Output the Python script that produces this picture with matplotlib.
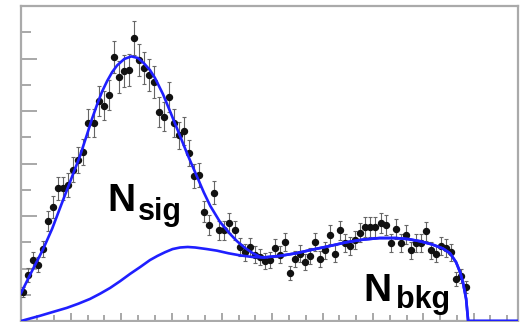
import numpy as np
import matplotlib.pyplot as plt
from matplotlib.ticker import MultipleLocator

# data points (bin centres, counts, errors)
x_data = np.linspace(0.05, 8.85, 89)
y_data = [0.55, 0.88, 1.16, 1.07, 1.37, 1.90, 2.17, 2.53, 2.53, 2.59,
          2.88, 3.07, 3.22, 3.77, 3.77, 4.19, 4.10, 4.30, 5.03, 4.65,
          4.76, 4.78, 5.39, 4.97, 4.82, 4.69, 4.55, 3.98, 3.89, 4.27,
          3.77, 3.54, 3.62, 3.20, 2.76, 2.78, 2.08, 1.83, 2.44, 1.73,
          1.73, 1.87, 1.73, 1.41, 1.31, 1.41, 1.26, 1.22, 1.14, 1.16,
          1.39, 1.26, 1.50, 0.91, 1.18, 1.28, 1.12, 1.24, 1.50, 1.18,
          1.35, 1.64, 1.28, 1.73, 1.49, 1.43, 1.54, 1.68, 1.79, 1.79,
          1.79, 1.87, 1.83, 1.49, 1.75, 1.49, 1.64, 1.35, 1.49, 1.49,
          1.71, 1.35, 1.28, 1.43, 1.39, 1.31, 0.80, 0.86, 0.65]
y_err = [0.10, 0.13, 0.15, 0.14, 0.16, 0.19, 0.21, 0.22, 0.22, 0.23,
         0.24, 0.25, 0.25, 0.27, 0.27, 0.29, 0.28, 0.29, 0.31, 0.30,
         0.31, 0.31, 0.33, 0.31, 0.31, 0.30, 0.30, 0.28, 0.28, 0.29,
         0.27, 0.26, 0.27, 0.25, 0.23, 0.23, 0.20, 0.19, 0.22, 0.18,
         0.18, 0.19, 0.18, 0.17, 0.16, 0.17, 0.16, 0.15, 0.15, 0.15,
         0.17, 0.16, 0.17, 0.13, 0.15, 0.16, 0.15, 0.16, 0.17, 0.15,
         0.16, 0.18, 0.16, 0.18, 0.17, 0.17, 0.17, 0.18, 0.19, 0.19,
         0.19, 0.19, 0.19, 0.17, 0.19, 0.17, 0.18, 0.16, 0.17, 0.17,
         0.18, 0.16, 0.16, 0.17, 0.17, 0.16, 0.13, 0.13, 0.11]

# total fit (signal region)
tot_x = [0.01, 0.19, 0.45, 0.63, 0.78, 0.98, 1.18, 1.32, 1.42, 1.52,
         1.62, 1.72, 1.82, 1.92, 2.06, 2.20, 2.33, 2.45, 2.57, 2.67,
         2.83, 3.01, 3.17, 3.33, 3.51, 3.64, 3.77, 3.96, 4.16, 4.30,
         4.46, 4.60, 4.76]
tot_y = [0.53, 0.88, 1.37, 1.76, 2.14, 2.64, 3.14, 3.55, 3.85, 4.12,
         4.37, 4.57, 4.74, 4.87, 4.99, 5.04, 5.01, 4.91, 4.78, 4.63,
         4.32, 3.90, 3.52, 3.14, 2.74, 2.45, 2.19, 1.89, 1.66, 1.52,
         1.39, 1.30, 1.22]

# background fit
bkg_x = [0.01, 0.20, 0.39, 0.60, 0.92, 1.15, 1.38, 1.58, 1.78, 1.98,
         2.18, 2.38, 2.57, 2.72, 2.87, 3.02, 3.17, 3.32, 3.47, 3.70,
         3.90, 4.13, 4.36, 4.60, 4.82, 5.15, 5.47, 5.80, 6.15, 6.47,
         6.80, 7.13, 7.46, 7.70, 7.93, 8.17, 8.39, 8.53, 8.65, 8.73,
         8.79, 8.85, 8.89, 9.88]
bkg_y = [0.00, 0.05, 0.10, 0.16, 0.25, 0.33, 0.42, 0.52, 0.63, 0.76,
         0.90, 1.03, 1.16, 1.24, 1.31, 1.37, 1.40, 1.41, 1.40, 1.37,
         1.34, 1.29, 1.25, 1.22, 1.21, 1.24, 1.29, 1.36, 1.43, 1.50,
         1.55, 1.58, 1.58, 1.56, 1.52, 1.46, 1.38, 1.29, 1.12, 0.93,
         0.72, 0.42, 0.00, 0.00]

fig = plt.figure(figsize=(5.26, 3.22), dpi=100)
ax = fig.add_axes([20.5/526, 1/322, 497.5/526, 315/322])

ax.errorbar(x_data, y_data, yerr=y_err, fmt='o', color='#111111', ms=4.3,
            ecolor='#666666', elinewidth=0.8, capsize=1.3, capthick=0.8, zorder=3)

bx = np.array(bkg_x)
by = np.array(bkg_y)
mask = bx > 4.8
ax.plot(np.concatenate([tot_x, bx[mask]]), np.concatenate([tot_y, by[mask]]),
        color='#1f1fff', lw=1.9, zorder=4)
ax.plot(bx, by, color='#1f1fff', lw=1.9, zorder=4)

font = 'Liberation Sans'
ax.text(1.72, 2.10, 'N', fontsize=28, fontweight='bold', family=font, va='baseline')
ax.text(2.33, 1.92, 'sig', fontsize=22, fontweight='bold', family=font, va='baseline')
ax.text(6.80, 0.38, 'N', fontsize=28, fontweight='bold', family=font, va='baseline')
ax.text(7.46, 0.25, 'bkg', fontsize=22, fontweight='bold', family=font, va='baseline')

ax.set_xlim(0, 9.88)
ax.set_ylim(0, 6)
ax.xaxis.set_major_locator(MultipleLocator(1))
ax.xaxis.set_minor_locator(MultipleLocator(1/3))
ax.yaxis.set_major_locator(MultipleLocator(1))
ax.yaxis.set_minor_locator(MultipleLocator(0.5))
ax.tick_params(which='both', direction='in', color='#999999', labelleft=False,
               labelbottom=False, width=1.2)
ax.tick_params(axis='y', which='major', length=11.5)
ax.tick_params(axis='y', which='minor', length=7)
ax.tick_params(axis='x', which='major', length=6)
ax.tick_params(axis='x', which='minor', length=4)
for s in ax.spines.values():
    s.set_color('#aaaaaa')
    s.set_linewidth(1.6)

fig.savefig('out.png', dpi=100)
